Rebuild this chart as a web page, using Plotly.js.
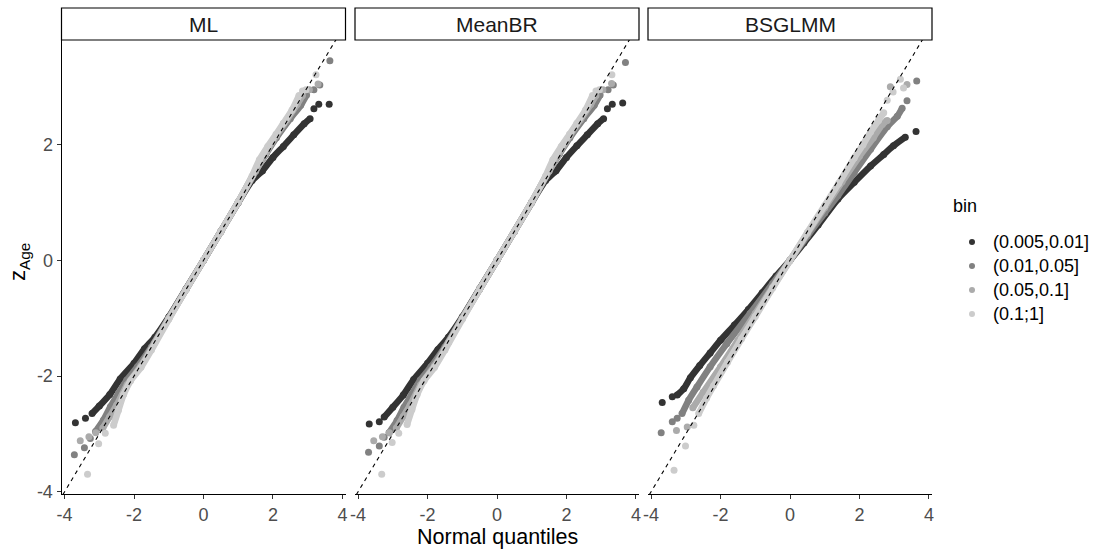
<!DOCTYPE html>
<html>
<head>
<meta charset="utf-8">
<script src="https://cdn.plot.ly/plotly-3.0.1.min.js"></script>
<style>html,body{margin:0;padding:0;background:#fff;}#chart{width:1102px;height:549px;}</style>
</head>
<body>
<div id="chart"></div>
<script>
// ---------- data (normal quantile, z) ----------
const panels = ['ML', 'MeanBR', 'BSGLMM'];
const bins = ['(0.005,0.01]', '(0.01,0.05]', '(0.05,0.1]', '(0.1;1]'];
const binColors = ['#333333', '#818181', '#ABABAB', '#CCCCCC'];
const legendTitle = 'bin';
const xTitle = 'Normal quantiles';
const yTitleText = 'z<sub>Age</sub>';
const xTickVals = [-4, -2, 0, 2, 4];
const xTickText = ['-4', '-2', '0', '2', '4'];
const yTickVals = [-4, -2, 0, 2];
const yTickText = ['-4', '-2', '0', '2'];
const refLine = [-5, 5];

// ML
const ML_b1_body = [[-3.21,-2.65],[-3.0,-2.52],[-2.7,-2.32],[-2.4,-2.05],[-2.0,-1.78],[-1.7,-1.53],[-1.4,-1.33],[-1.0,-0.98],[-0.5,-0.49],[0,0],[0.5,0.5],[1.0,1.0],[1.4,1.38],[1.7,1.55],[2.0,1.78],[2.3,1.97],[2.6,2.17],[2.9,2.36],[3.07,2.45]];
const ML_b1_tail = [[-3.69,-2.81],[-3.40,-2.73],[3.18,2.62],[3.32,2.70],[3.62,2.70]];
const ML_b2_body = [[-3.11,-2.96],[-2.88,-2.76],[-2.68,-2.53],[-2.45,-2.30],[-2.21,-2.07],[-1.9,-1.84],[-1.5,-1.5],[-1.0,-1.0],[-0.5,-0.5],[0,0],[0.5,0.5],[1.0,1.01],[1.5,1.55],[1.8,1.84],[2.1,2.12],[2.5,2.45],[2.8,2.68],[2.97,2.86]];
const ML_b2_tail = [[-3.72,-3.36],[-3.43,-3.24],[-3.26,-3.08],[3.18,2.95],[3.35,3.03],[3.64,3.45]];
const ML_b3_body = [[-2.9,-2.9],[-2.7,-2.7],[-2.5,-2.5],[-2.2,-2.15],[-1.8,-1.82],[-1.4,-1.42],[-1.0,-1.0],[-0.5,-0.5],[0,0],[0.5,0.5],[1.0,1.0],[1.5,1.54],[1.8,1.86],[2.1,2.16],[2.4,2.43],[2.7,2.7],[2.85,2.85]];
const ML_b3_tail = [[-3.55,-3.12],[-3.3,-3.05],[-3.1,-2.98],[3.05,2.95],[3.3,3.05]];
const ML_b4_body = [[-2.59,-2.85],[-2.45,-2.59],[-2.3,-2.32],[-2.1,-2.08],[-1.8,-1.85],[-1.5,-1.55],[-1.0,-1.02],[-0.5,-0.5],[0,0],[0.5,0.5],[1.0,1.01],[1.4,1.46],[1.61,1.74],[1.85,1.97],[2.09,2.18],[2.3,2.37],[2.55,2.6],[2.75,2.85]];
const ML_b4_tail = [[-3.34,-3.70],[-3.02,-3.17],[-2.83,-2.99],[2.85,2.93],[2.95,2.95],[3.24,3.21]];

// MeanBR
const MeanBR_b1_body = [[-3.25,-2.71],[-3.0,-2.54],[-2.7,-2.33],[-2.4,-2.06],[-2.0,-1.78],[-1.7,-1.54],[-1.4,-1.33],[-1.0,-0.98],[-0.5,-0.49],[0,0],[0.5,0.5],[1.0,1.0],[1.4,1.38],[1.7,1.55],[2.0,1.78],[2.3,1.98],[2.6,2.17],[2.9,2.36],[3.07,2.45]];
const MeanBR_b1_tail = [[-3.68,-2.83],[-3.39,-2.79],[3.18,2.62],[3.32,2.70],[3.62,2.72]];
const MeanBR_b2_body = [[-3.11,-2.98],[-2.88,-2.77],[-2.68,-2.54],[-2.45,-2.31],[-2.21,-2.07],[-1.9,-1.84],[-1.5,-1.5],[-1.0,-1.0],[-0.5,-0.5],[0,0],[0.5,0.5],[1.0,1.01],[1.5,1.55],[1.8,1.84],[2.1,2.12],[2.5,2.45],[2.8,2.68],[2.97,2.86]];
const MeanBR_b2_tail = [[-3.70,-3.32],[-3.39,-3.21],[-3.25,-3.06],[3.2,2.95],[3.35,3.03],[3.70,3.42]];
const MeanBR_b3_body = [[-2.9,-2.9],[-2.7,-2.7],[-2.5,-2.5],[-2.2,-2.15],[-1.8,-1.82],[-1.4,-1.42],[-1.0,-1.0],[-0.5,-0.5],[0,0],[0.5,0.5],[1.0,1.0],[1.5,1.54],[1.8,1.86],[2.1,2.16],[2.4,2.43],[2.7,2.7],[2.85,2.85]];
const MeanBR_b3_tail = [[-3.55,-3.12],[-3.3,-3.05],[-3.1,-2.98],[3.05,2.95],[3.3,3.06]];
const MeanBR_b4_body = [[-2.59,-2.84],[-2.45,-2.58],[-2.3,-2.32],[-2.1,-2.08],[-1.8,-1.85],[-1.5,-1.55],[-1.0,-1.02],[-0.5,-0.5],[0,0],[0.5,0.5],[1.0,1.01],[1.4,1.46],[1.61,1.74],[1.85,1.97],[2.09,2.18],[2.3,2.37],[2.55,2.6],[2.75,2.85]];
const MeanBR_b4_tail = [[-3.32,-3.70],[-3.02,-3.15],[-2.83,-2.99],[2.85,2.93],[2.95,2.95],[3.31,3.21]];

// BSGLMM
const BSGLMM_b1_body = [[-3.25,-2.33],[-3.06,-2.22],[-2.87,-2.03],[-2.6,-1.82],[-2.3,-1.6],[-2.0,-1.38],[-1.6,-1.12],[-1.2,-0.85],[-0.8,-0.56],[-0.4,-0.27],[0,0],[0.4,0.3],[0.81,0.61],[1.38,1.06],[1.85,1.35],[2.32,1.63],[2.70,1.83],[2.98,1.98],[3.32,2.13]];
const BSGLMM_b1_tail = [[-3.68,-2.46],[-3.39,-2.36],[3.63,2.23]];
const BSGLMM_b2_body = [[-3.11,-2.65],[-2.92,-2.42],[-2.68,-2.19],[-2.30,-1.84],[-1.82,-1.44],[-1.15,-0.92],[-0.5,-0.4],[0,0],[0.5,0.42],[1.0,0.82],[1.38,1.12],[1.85,1.52],[2.32,1.92],[2.80,2.31],[3.09,2.49],[3.23,2.63]];
const BSGLMM_b2_tail = [[-3.71,-2.98],[-3.39,-2.79],[-3.25,-2.73],[3.37,2.76],[3.65,3.10]];
const BSGLMM_b3_body = [[-2.8,-2.55],[-2.5,-2.28],[-2.0,-1.84],[-1.5,-1.38],[-1.0,-0.92],[-0.5,-0.46],[0,0],[0.5,0.46],[1.0,0.91],[1.5,1.36],[2.0,1.80],[2.4,2.12],[2.66,2.35],[2.8,2.42]];
const BSGLMM_b3_tail = [[-3.27,-2.94],[-2.96,-2.88],[2.89,3.00],[3.37,3.04]];
const BSGLMM_b4_body = [[-2.63,-2.65],[-2.4,-2.38],[-2.2,-2.17],[-1.8,-1.76],[-1.4,-1.36],[-1.0,-0.97],[-0.5,-0.48],[0,0],[0.5,0.48],[1.0,0.95],[1.4,1.33],[1.85,1.77],[2.1,2.0],[2.32,2.22],[2.55,2.42],[2.7,2.55]];
const BSGLMM_b4_tail = [[-3.34,-3.63],[-3.01,-3.21],[-2.77,-2.85],[2.80,2.77],[2.97,2.91],[3.18,3.13],[3.27,2.98]];

const seriesData = {
  ML: [[ML_b1_body, ML_b1_tail],[ML_b2_body, ML_b2_tail],[ML_b3_body, ML_b3_tail],[ML_b4_body, ML_b4_tail]],
  MeanBR: [[MeanBR_b1_body, MeanBR_b1_tail],[MeanBR_b2_body, MeanBR_b2_tail],[MeanBR_b3_body, MeanBR_b3_tail],[MeanBR_b4_body, MeanBR_b4_tail]],
  BSGLMM: [[BSGLMM_b1_body, BSGLMM_b1_tail],[BSGLMM_b2_body, BSGLMM_b2_tail],[BSGLMM_b3_body, BSGLMM_b3_tail],[BSGLMM_b4_body, BSGLMM_b4_tail]]
};

// ---------- layout geometry ----------
const W = 1102, H = 549;
const FONT = 'Liberation Sans, Arial, Helvetica, sans-serif';
const panelPx = [[61.5, 345.5], [355, 639], [648, 932]];
const topPx = 40, botPx = 494, stripTopPx = 8;
const yDom = [1 - botPx / H, 1 - topPx / H];

const traces = [];
panels.forEach((p, pi) => {
  const xa = pi === 0 ? 'x' : 'x' + (pi + 1);
  const ya = pi === 0 ? 'y' : 'y' + (pi + 1);
  seriesData[p].forEach((pair, bi) => {
    const body = pair[0], tail = pair[1];
    traces.push({
      type: 'scatter', mode: 'lines+markers', xaxis: xa, yaxis: ya,
      x: body.map(d => d[0]), y: body.map(d => d[1]),
      line: {color: binColors[bi], width: 6.5, shape: 'spline', smoothing: 0.6},
      marker: {color: binColors[bi], size: 7},
      name: bins[bi], legendgroup: bins[bi], showlegend: false, hoverinfo: 'skip'
    });
    traces.push({
      type: 'scatter', mode: 'markers', xaxis: xa, yaxis: ya,
      x: tail.map(d => d[0]), y: tail.map(d => d[1]),
      marker: {color: binColors[bi], size: 7},
      name: bins[bi], legendgroup: bins[bi], showlegend: false, hoverinfo: 'skip'
    });
  });
});
panels.forEach((p, pi) => {
  traces.push({
    type: 'scatter', mode: 'lines',
    xaxis: pi === 0 ? 'x' : 'x' + (pi + 1), yaxis: pi === 0 ? 'y' : 'y' + (pi + 1),
    x: refLine, y: refLine,
    line: {color: '#000000', width: 1.1, dash: '4px,4px'},
    showlegend: false, hoverinfo: 'skip'
  });
});

const layout = {
  width: W, height: H,
  margin: {l: 0, r: 0, t: 0, b: 0},
  paper_bgcolor: '#ffffff', plot_bgcolor: '#ffffff',
  font: {family: FONT, size: 16, color: '#1A1A1A'},
  showlegend: false,
  shapes: [],
  annotations: []
};

layout.annotations.push({
  xref: 'paper', yref: 'paper', x: 19 / W, y: 1 - 262 / H,
  text: yTitleText, textangle: -90, showarrow: false,
  font: {size: 22, color: '#000000', family: FONT}, xanchor: 'center', yanchor: 'middle'
});
layout.annotations.push({
  xref: 'paper', yref: 'paper', x: 497 / W, y: 1 - 537 / H,
  text: xTitle, showarrow: false,
  font: {size: 21.5, color: '#000000', family: FONT}, xanchor: 'center', yanchor: 'middle'
});

// legend (ggplot-style, drawn in paper space)
layout.annotations.push({
  xref: 'paper', yref: 'paper', x: 951 / W, y: 1 - 206 / H,
  text: legendTitle, showarrow: false, xanchor: 'left', yanchor: 'middle',
  font: {size: 18, color: '#000000', family: FONT}
});
bins.forEach((b, bi) => {
  const cy = 242 + bi * 24;
  layout.shapes.push({
    type: 'circle', xref: 'paper', yref: 'paper',
    x0: (972 - 3) / W, x1: (972 + 3) / W, y0: 1 - (cy + 3) / H, y1: 1 - (cy - 3) / H,
    fillcolor: binColors[bi], line: {width: 0}
  });
  layout.annotations.push({
    xref: 'paper', yref: 'paper', x: 991 / W, y: 1 - cy / H,
    text: b, showarrow: false, xanchor: 'left', yanchor: 'middle',
    font: {size: 18, color: '#000000', family: FONT}
  });
});

panels.forEach((p, pi) => {
  const sfx = pi === 0 ? '' : String(pi + 1);
  const dom = [panelPx[pi][0] / W, panelPx[pi][1] / W];
  layout['xaxis' + sfx] = {
    domain: dom, anchor: 'y' + sfx, range: [-4.09, 4.09],
    showgrid: false, zeroline: false, showline: true, linecolor: '#000000', linewidth: 1,
    ticks: 'outside', ticklen: 4, tickwidth: 1, tickcolor: '#333333',
    tickmode: 'array', tickvals: xTickVals, ticktext: xTickText,
    tickfont: {size: 18, color: '#4D4D4D', family: FONT}, fixedrange: true
  };
  const yax = {
    domain: yDom, anchor: 'x' + sfx, range: [-4.04, 3.81],
    showgrid: false, zeroline: false, fixedrange: true
  };
  if (pi === 0) {
    Object.assign(yax, {
      showline: true, linecolor: '#000000', linewidth: 1,
      ticks: 'outside', ticklen: 4, tickwidth: 1, tickcolor: '#333333',
      tickmode: 'array', tickvals: yTickVals, ticktext: yTickText,
      tickfont: {size: 18, color: '#4D4D4D', family: FONT}
    });
  } else {
    Object.assign(yax, {matches: 'y', showline: false, ticks: '', showticklabels: false});
  }
  layout['yaxis' + sfx] = yax;
  // strip
  layout.shapes.push({
    type: 'rect', xref: 'paper', yref: 'paper',
    x0: dom[0], x1: dom[1], y0: 1 - topPx / H, y1: 1 - stripTopPx / H,
    line: {color: '#000000', width: 1.2}, fillcolor: '#ffffff'
  });
  layout.annotations.push({
    xref: 'paper', yref: 'paper', x: (dom[0] + dom[1]) / 2, y: 1 - 24 / H,
    text: p, showarrow: false, xanchor: 'center', yanchor: 'middle',
    font: {size: 21, color: '#1A1A1A', family: FONT}
  });
});

Plotly.newPlot('chart', traces, layout, {displayModeBar: false, staticPlot: true});
</script>
</body>
</html>
